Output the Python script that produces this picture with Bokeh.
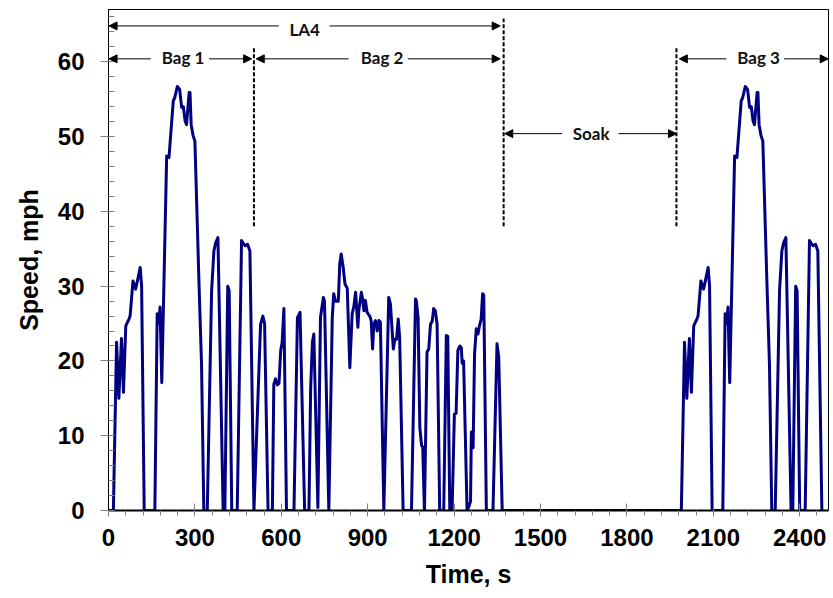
from bokeh.plotting import figure
from bokeh.models import Range1d, SingleIntervalTicker, Label, Arrow, NormalHead, Title
from bokeh.embed import file_html
from bokeh.resources import INLINE

# ---- Data (time in s, speed in mph) ----
bag1_t = [0, 17, 28, 36, 45, 52, 60, 71, 75, 85, 94, 101, 110, 115, 124, 161, 169, 175, 179, 185,
          202, 210, 225, 230, 239, 247, 254, 260, 266, 271, 280, 283, 287, 294, 300, 314, 323, 331,
          343, 358, 366, 372, 380, 398, 404, 414, 419, 428, 447, 462, 470, 475, 483, 491, 505]
bag1_v = [0, 0, 22.5, 15, 23, 15.8, 24.7, 25.6, 26, 30.7, 29.6, 30.8, 32.5, 30, 0, 0, 26.3, 25, 27.2, 17.1,
          47.4, 47.2, 54.8, 55.2, 56.7, 56.3, 53.9, 54, 52.1, 51.6, 55.9, 55.9, 51.6, 50.1, 49.4, 30.7, 19.6, 0,
          0, 29.4, 34.7, 35.8, 36.5, 0, 0, 30, 29.4, 0, 0, 36.1, 35.6, 35.4, 35.6, 34.7, 0]

bag2_t = [528, 536, 542, 554, 569, 574, 580, 586, 592, 598, 603, 609, 618, 644, 656, 665, 681, 696, 702, 708,
          713, 727, 736, 746, 750, 765, 777, 782, 788, 798, 803, 808, 815, 821, 829, 838, 846, 852, 858, 866,
          869, 878, 883, 887, 892, 898, 907, 912, 917, 921, 927, 933, 939, 944, 956, 973, 979, 989, 994, 1000,
          1006, 1011, 1023, 1052, 1066, 1069, 1075, 1081, 1087, 1091, 1097, 1106, 1112, 1118, 1124, 1129, 1135,
          1141, 1150, 1164, 1173, 1178, 1185, 1193, 1201, 1207, 1213, 1220, 1225, 1228, 1233, 1245, 1251, 1257,
          1260, 1266, 1271, 1277, 1283, 1288, 1294, 1299, 1303, 1312, 1335, 1349, 1355, 1367]
bag2_v = [24.9, 26, 25, 0, 0, 16.9, 17.6, 16.8, 17, 21.4, 22.5, 27, 0, 0, 25.8, 26.5, 0, 0, 16.5, 22.5,
          23.6, 0.4, 25.8, 28.5, 28, 0, 25.8, 29, 28, 28, 33, 34.3, 32.5, 30.3, 29.7, 19.1, 26.3, 27.3, 29.2, 24.5,
          26.7, 29.2, 28.1, 26.7, 28.1, 26.5, 26, 25.4, 21.6, 24.9, 25.4, 24, 25.4, 25.2, 0, 28.5, 27.6, 21.6, 22.9, 22.9,
          25.6, 23.1, 0, 0, 28.3, 28, 25.8, 11.1, 8.7, 8.5, 0, 21.2, 21.6, 24.9, 25.3, 27, 26.7,
          24.9, 0, 0, 23.4, 23.3, 0, 0, 12.9, 13, 21.4, 22, 21.8, 19.7, 20, 0, 0.5, 1.2,
          10.5, 8.4, 20.9, 24.3, 23.6, 24.7, 25.6, 29, 28.8, 0, 0, 22.3, 20.5, 0]

# Phase boundaries (s); Bag 3 repeats the Bag 1 trace after the 10-minute soak
phase_bounds = [505, 1372, 1972]
bag3_start = 1972

x_ticks_interval = 300
y_ticks_interval = 10

time = bag1_t + bag2_t + [t + bag3_start for t in bag1_t]
speed = bag1_v + bag2_v + bag1_v

# ---- Figure ----
p = figure(width=833, height=598, output_backend="svg", toolbar_location=None,
           x_range=Range1d(0, 2500), y_range=Range1d(0, 67),
           min_border_left=108, min_border_right=5, min_border_top=9, min_border_bottom=88)
p.background_fill_color = "white"
p.border_fill_color = "white"
p.outline_line_color = "black"
p.outline_line_width = 1
p.xgrid.visible = False
p.ygrid.visible = False

# Axes
p.xaxis.ticker = SingleIntervalTicker(interval=x_ticks_interval, num_minor_ticks=5)
p.yaxis.ticker = SingleIntervalTicker(interval=y_ticks_interval, num_minor_ticks=5)
for ax in (p.xaxis[0], p.yaxis[0]):
    ax.major_label_text_font = "Liberation Sans"
    ax.major_label_text_font_style = "bold"
    ax.major_label_text_font_size = "24px"
    ax.major_label_text_color = "black"
    ax.major_tick_line_color = "#808080"
    ax.minor_tick_line_color = "#808080"
    ax.axis_line_color = "black"

p.xaxis.major_tick_in = 7
p.xaxis.major_tick_out = 6
p.xaxis.minor_tick_in = 0
p.xaxis.minor_tick_out = 5
p.xaxis.axis_line_width = 2
p.xaxis.major_label_standoff = 12
p.xaxis.axis_label = "Time, s"
p.xaxis.axis_label_text_font = "Liberation Sans"
p.xaxis.axis_label_text_font_style = "bold"
p.xaxis.axis_label_text_font_size = "25px"
p.xaxis.axis_label_text_color = "black"
p.xaxis.axis_label_standoff = 11

p.yaxis.major_tick_in = 0
p.yaxis.major_tick_out = 8
p.yaxis.minor_tick_in = 6
p.yaxis.minor_tick_out = 0
p.yaxis.major_label_standoff = 16

p.add_layout(Title(text="Speed, mph", align="center", offset=-30, standoff=23,
                   text_font="Liberation Sans", text_font_style="bold",
                   text_font_size="25px", text_color="black"), "left")

# Speed trace
p.line(time, speed, line_color="#000080", line_width=3, line_join="round")

# Dashed phase markers
p.segment(x0=phase_bounds, y0=[38, 38, 38], x1=phase_bounds, y1=[62.1, 65.8, 62.1],
          line_color="black", line_width=2, line_dash="4 2")

# Phase arrows: (text, y line, left tip, right tip, gap left, gap right, text x, text y)
phase_labels = [
    ("LA4", 64.8, 2, 1360, 591, 768, 681, 64.3),
    ("Bag 1", 60.4, 2, 497, 147, 349, 259, 60.6),
    ("Bag 2", 60.4, 513, 1360, 834, 1039, 950, 60.6),
    ("Soak", 50.4, 1376, 1972, 1575, 1771, 1676, 50.4),
    ("Bag 3", 60.4, 1982, 2499, 2145, 2346, 2257, 60.6),
]
for txt, yl, lt, rt, gl, gr, tx, ty in phase_labels:
    for xs, xe in ((gl, lt), (gr, rt)):
        p.add_layout(Arrow(end=NormalHead(size=8, fill_color="black", line_color="black"),
                           x_start=xs, y_start=yl, x_end=xe, y_end=yl,
                           line_color="black", line_width=1))
    p.add_layout(Label(x=tx, y=ty, text=txt, text_align="center", text_baseline="middle",
                       text_font="Lato", text_font_style="bold", text_font_size="17px",
                       text_color="#111111"))

open("out.html", "w").write(file_html(p, INLINE))
